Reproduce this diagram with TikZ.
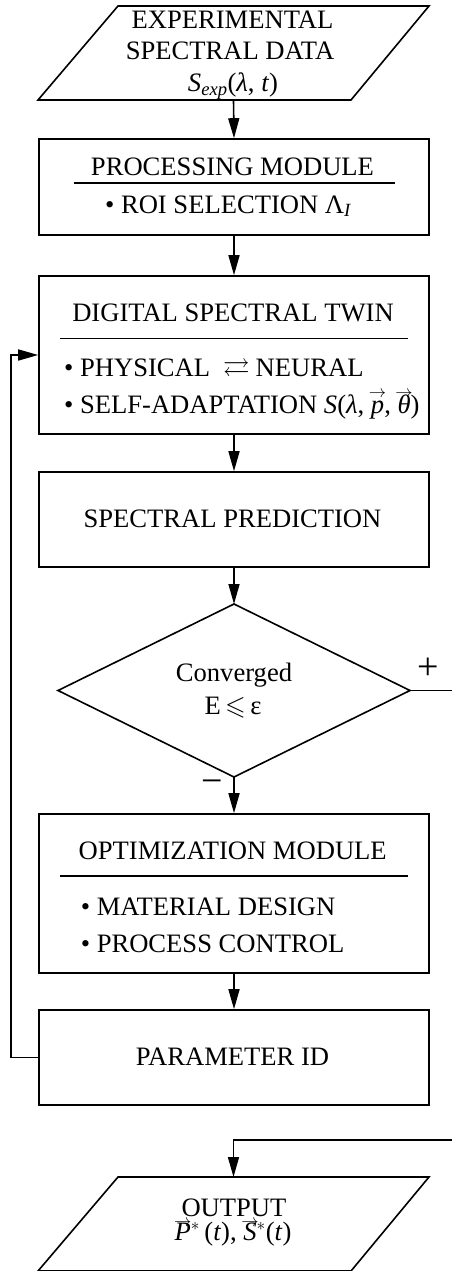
\documentclass[tikz,border=0pt]{standalone}
\usepackage{fontspec}
\setmainfont{Liberation Serif}
\usepackage{amsmath,amssymb}
\usetikzlibrary{arrows.meta,calc}
\newcommand{\varw}[2][16pt]{\setbox0\hbox{#2}\rlap{\hbox to \wd0{\hss\raisebox{#1}{\fontsize{17}{17}\selectfont$\rightarrow$}\hss}}\box0}
\begin{document}
\begin{tikzpicture}[x=1pt,y=-1pt,line width=1.6pt,
  box/.style={draw,rectangle,minimum width=390pt,inner sep=0pt},
  holder/.style={inner sep=0pt,outer sep=0pt},
  txt/.style={font=\fontsize{26.6}{30}\selectfont,inner sep=0pt,anchor=base},
  ltxt/.style={txt,anchor=base west},
  sign/.style={font=\fontsize{38}{40}\selectfont,inner sep=0pt},
  arr/.style={-{Triangle[length=20pt,width=11pt]}}]
\useasboundingbox (0,0) rectangle (452,1271);

% input
\node[holder,minimum width=391pt,minimum height=94pt] (in) at (233.5,53) {};
\draw (in.south west) -- ++(313,0) -- (in.north east) -- ++(-311,0) -- cycle;
\node[txt] (in1) at (232.5,28.3) {EXPERIMENTAL};
\node[txt] (in2) at (230,60) {SPECTRAL DATA};
\node[txt] (in3) at (233,91.7) {\textit{S}$_{\textit{exp}}$(\textit{λ}, \textit{t})};

% processing
\node[box,minimum height=96pt] (proc) at (234,187) {};
\node[txt] (proc1) at (232.5,175) {PROCESSING MODULE};
\coordinate (pr1) at (74,183);
\coordinate (pr2) at (395,183);
\draw (pr1) -- (pr2);
\node[txt] (proc2) at (228,213) {• ROI SELECTION Λ$_{\textit{I}}$};

% twin
\node[box,minimum height=158pt] (twin) at (234,355) {};
\node[txt] (twin1) at (233,321.7) {DIGITAL SPECTRAL TWIN};
\coordinate (tr1) at (60,338.3);
\coordinate (tr2) at (408,338.3);
\draw (tr1) -- (tr2);
\node[ltxt] (twin2) at (63.3,376.7) {• PHYSICAL\hspace{13pt}$\rightleftarrows$\hspace{6pt}NEURAL};
\node[ltxt] (twin3) at (63.3,413.3) {• SELF-ADAPTATION \textit{S}(\textit{λ}, \varw{\textit{p}}, \varw{\textit{θ}})};

% prediction
\node[box,minimum height=95pt] (pred) at (234,519.5) {};
\node[txt] (pred1) at (232.5,527.3) {SPECTRAL PREDICTION};

% decision
\node[holder,minimum width=352pt,minimum height=173pt] (dia) at (234,690.5) {};
\draw (dia.north) -- (dia.east) -- (dia.south) -- (dia.west) -- cycle;
\node[txt] (dia1) at (234,681.7) {Converged};
\node[txt] (dia2) at (233,714) {E\,$\leqslant$\,ε};
\node[sign] (plus) at (428,669) {+};
\node[sign] (minus) at (212,787) {−};

% optimization
\node[box,minimum height=159pt] (opt) at (234,893.5) {};
\node[txt] (opt1) at (232.7,859.3) {OPTIMIZATION MODULE};
\coordinate (or1) at (60,876);
\coordinate (or2) at (408,876);
\draw (or1) -- (or2);
\node[ltxt] (opt2) at (80,915) {• MATERIAL DESIGN};
\node[ltxt] (opt3) at (80,952.7) {• PROCESS CONTROL};

% parameter id
\node[box,minimum height=95pt] (par) at (234,1057.5) {};
\node[txt] (par1) at (232.5,1065.7) {PARAMETER ID};

% output
\node[holder,minimum width=391pt,minimum height=94pt] (out) at (233.5,1224) {};
\draw (out.south west) -- ++(313,0) -- (out.north east) -- ++(-311,0) -- cycle;
\node[txt] (out1) at (234,1216.7) {OUTPUT};
\node[txt] (out2) at (233,1240) {\varw[14pt]{\textit{P}}$^{*}$\,(\textit{t}), \varw[14pt]{\textit{S}}$^{*}$(\textit{t})};

% connectors
\draw[arr] (in.south) -- (proc.north);
\draw[arr] (proc.south) -- (twin.north);
\draw[arr] (twin.south) -- (pred.north);
\draw[arr] (pred.south) -- (dia.north);
\draw[arr] (dia.south) -- (opt.north);
\draw[arr] (opt.south) -- (par.north);
\coordinate (fb) at (11,1057.5);
\draw[arr] (par.west) -- (fb) |- (twin.west);
\coordinate (rt) at (490,690.5);
\coordinate (ot) at (233.5,1140);
\draw[arr] (dia.east) -- (rt) |- (ot) -- (out.north);
\end{tikzpicture}
\end{document}
